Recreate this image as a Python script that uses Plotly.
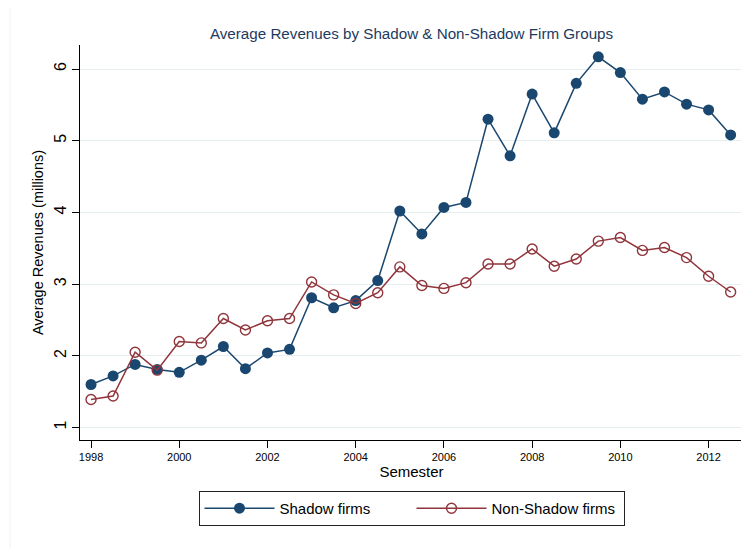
import plotly.graph_objects as go

semesters = [1998 + 0.5 * i for i in range(30)]
shadow = [1.60, 1.72, 1.88, 1.81, 1.77, 1.94, 2.13, 1.82, 2.04, 2.09,
          2.81, 2.67, 2.77, 3.05, 4.02, 3.70, 4.07, 4.14, 5.30, 4.79,
          5.65, 5.11, 5.80, 6.17, 5.95, 5.58, 5.68, 5.51, 5.43, 5.08]
non_shadow = [1.39, 1.44, 2.05, 1.80, 2.20, 2.18, 2.52, 2.36, 2.49, 2.52,
              3.03, 2.85, 2.73, 2.88, 3.24, 2.98, 2.94, 3.02, 3.28, 3.28,
              3.49, 3.25, 3.35, 3.60, 3.65, 3.47, 3.51, 3.37, 3.11, 2.89]
x_ticks = [1998, 2000, 2002, 2004, 2006, 2008, 2010, 2012]
y_ticks = [1, 2, 3, 4, 5, 6]

NAVY = "#1a476f"
MAROON = "#90353b"
FONT = "Liberation Sans, Arial, sans-serif"

fig = go.Figure()
fig.add_trace(go.Scatter(
    x=semesters, y=shadow, mode="lines+markers", name="Shadow firms",
    line=dict(color=NAVY, width=1.5),
    marker=dict(symbol="circle", size=11, color=NAVY, line=dict(width=0)),
))
fig.add_trace(go.Scatter(
    x=semesters, y=non_shadow, mode="lines+markers", name="Non-Shadow firms",
    line=dict(color=MAROON, width=1.5),
    marker=dict(symbol="circle-open", size=10, color=MAROON, line=dict(width=1.4)),
))

fig.update_layout(
    width=741, height=540,
    margin=dict(l=72, r=6, t=37, b=108, autoexpand=False),
    paper_bgcolor="white", plot_bgcolor="white",
    font=dict(family=FONT, color="black"),
    title=dict(text="Average Revenues by Shadow & Non-Shadow Firm Groups",
               font=dict(size=15.2, color="#1e3a5f", family=FONT),
               x=0.5, xref="paper", xanchor="center",
               y=1 - 26 / 540, yref="container", yanchor="middle"),
    xaxis=dict(range=[1997.75, 2012.78], tickvals=x_ticks,
               ticktext=[str(v) for v in x_ticks],
               showgrid=False, zeroline=False,
               showline=True, linecolor="black", linewidth=1,
               ticks="outside", ticklen=7, tickcolor="black", tickwidth=1,
               tickfont=dict(size=11, family=FONT),
               title=dict(text="Semester", font=dict(size=15, family=FONT), standoff=0)),
    yaxis=dict(range=[0.826, 6.335], tickvals=y_ticks,
               showgrid=True, gridcolor="#e6eef0", gridwidth=1, zeroline=False,
               showline=True, linecolor="black", linewidth=1,
               ticks="outside", ticklen=7, tickcolor="black", tickwidth=1,
               tickangle=-90,
               tickfont=dict(size=16, family=FONT),
               title=dict(text="Average Revenues (millions)",
                          font=dict(size=14.5, family=FONT), standoff=4)),
    legend=dict(orientation="h", x=0.5, xanchor="center", y=-0.129, yanchor="top",
                bordercolor="#222222", borderwidth=1, bgcolor="white",
                font=dict(size=15, family=FONT), itemwidth=70,
                entrywidth=127, entrywidthmode="pixels",
                tracegroupgap=0),
    showlegend=True,
    shapes=[dict(type="rect", xref="paper", yref="paper",
                 x0=-70 / 663, x1=1.2, y0=-0.5, y1=1 + 40 / 395,
                 line=dict(color="#eef1f3", width=1), fillcolor="rgba(0,0,0,0)",
                 layer="below")],
)

fig.write_html("out.html")
